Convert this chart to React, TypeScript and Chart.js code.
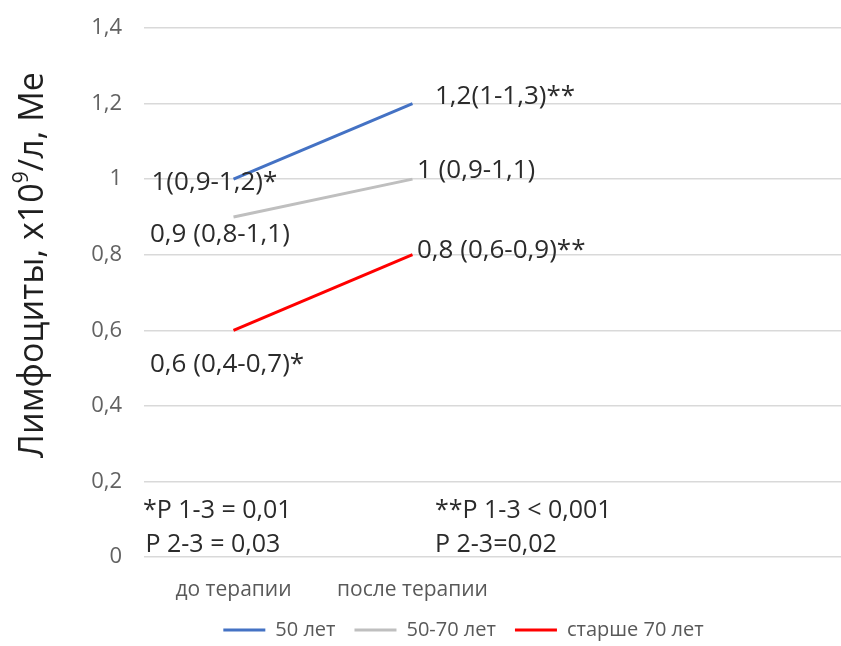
import React, { useEffect, useRef } from 'react';
import { Chart, registerables } from 'chart.js';

Chart.register(...registerables);

// ---- data ----
const categories = ['до терапии', 'после терапии', '', ''];
const seriesNames = ['50 лет', '50-70 лет', 'старше 70 лет'];
const under50 = [1.0, 1.2];
const from50to70 = [0.9, 1.0];
const over70 = [0.6, 0.8];
const under50Labels = ['1(0,9-1,2)*', '1,2(1-1,3)**'];
const from50to70Labels = ['0,9 (0,8-1,1)', '1 (0,9-1,1)'];
const over70Labels = ['0,6 (0,4-0,7)*', '0,8 (0,6-0,9)**'];
const yMin = 0;
const yMax = 1.4;
const yStep = 0.2;
const notesBefore = ['*P 1-3 = 0,01', 'P 2-3 = 0,03'];
const notesAfter = ['**P 1-3 < 0,001', 'P 2-3=0,02'];
const yTitleMain = 'Лимфоциты, x10';
const yTitleSup = '9';
const yTitleEnd = '/л, Me';

// ---- style / layout ----
const FONT = "'Open Sans', 'Noto Sans', sans-serif";
const colors = ['#4472C4', '#BFBFBF', '#FF0000'];
const labelSets = [under50Labels, from50to70Labels, over70Labels];
// offsets from point pixel: [dx to text left edge, dy to text middle]
const labelOffsets = [
  [[-82, 3], [22.5, -7]],
  [[-83.5, 18], [4.5, -8.6]],
  [[-83.5, 34], [4.5, -4]],
];
// notes: category index, dx from category pixel, dy from chart bottom
const notesLayout = [
  { cat: 0, lines: notesBefore, dx: [-90.5, -88] },
  { cat: 1, lines: notesAfter, dx: [22.5, 22.5] },
];
const notesDy = [-46, -12];

const fmt = (v: number) => String(Number(Number(v).toFixed(1))).replace('.', ',');

const annotPlugin = {
  id: 'annot',
  afterDatasetsDraw(chart: any) {
    const { ctx } = chart;
    ctx.save();
    ctx.font = `26px ${FONT}`;
    ctx.fillStyle = '#2b2b2b';
    ctx.textAlign = 'left';
    ctx.textBaseline = 'middle';
    chart.data.datasets.forEach((_ds: any, di: number) => {
      const meta = chart.getDatasetMeta(di);
      meta.data.forEach((pt: any, i: number) => {
        const [dx, dy] = labelOffsets[di][i];
        ctx.fillText(labelSets[di][i], pt.x + dx, pt.y + dy);
      });
    });
    // notes
    const xs = chart.scales.x;
    const bottom = chart.chartArea.bottom;
    ctx.font = `25px ${FONT}`;
    notesLayout.forEach((n) => {
      const px = xs.getPixelForValue(n.cat);
      n.lines.forEach((t, li) => {
        ctx.fillText(t, px + n.dx[li], bottom + notesDy[li]);
      });
    });
    ctx.restore();
  },
  afterDraw(chart: any) {
    const { ctx } = chart;
    ctx.save();
    ctx.translate(33, 265);
    ctx.rotate(-Math.PI / 2);
    ctx.fillStyle = '#1f1f1f';
    ctx.textBaseline = 'middle';
    ctx.textAlign = 'left';
    const mainFont = `34px ${FONT}`;
    const supFont = `21px ${FONT}`;
    ctx.font = mainFont;
    const w1 = ctx.measureText(yTitleMain).width;
    const w3 = ctx.measureText(yTitleEnd).width;
    ctx.font = supFont;
    const w2 = ctx.measureText(yTitleSup).width;
    let x = -(w1 + w2 + w3) / 2;
    ctx.font = mainFont;
    ctx.fillText(yTitleMain, x, 0);
    x += w1;
    ctx.font = supFont;
    ctx.fillText(yTitleSup, x, -11);
    x += w2;
    ctx.font = mainFont;
    ctx.fillText(yTitleEnd, x, 0);
    ctx.restore();
  },
};

export default function App() {
  const ref = useRef<HTMLCanvasElement>(null);
  useEffect(() => {
    if (!ref.current) return;
    Chart.defaults.font.family = FONT;
    const series = [under50, from50to70, over70];
    const chart = new Chart(ref.current, {
      type: 'line',
      data: {
        labels: categories,
        datasets: series.map((d, i) => ({
          label: seriesNames[i],
          data: d,
          borderColor: colors[i],
          backgroundColor: colors[i],
          borderWidth: 3,
          pointRadius: 0,
          pointHoverRadius: 0,
          tension: 0,
          fill: false,
          xAxisID: 'x',
          yAxisID: 'y',
        })),
      },
      options: {
        animation: false,
        responsive: true,
        maintainAspectRatio: false,
        layout: { padding: { top: 28, left: 0, right: 0, bottom: -4 } },
        plugins: {
          tooltip: { enabled: false },
          legend: {
            position: 'bottom',
            labels: {
              boxWidth: 42,
              boxHeight: 3,
              padding: 19,
              color: '#595959',
              font: { size: 20, family: FONT },
              generateLabels: (c: any) =>
                c.data.datasets.map((ds: any, i: number) => ({
                  text: ds.label,
                  fillStyle: ds.borderColor,
                  strokeStyle: ds.borderColor,
                  lineWidth: 0,
                  hidden: false,
                  datasetIndex: i,
                  fontColor: '#595959',
                })),
            },
          },
        },
        scales: {
          x: {
            type: 'category',
            offset: true,
            grid: { display: false, drawTicks: false },
            border: { display: false },
            ticks: {
              color: '#595959',
              font: { size: 21, family: FONT, lineHeight: 1.1 },
              padding: 21,
              autoSkip: false,
              maxRotation: 0,
            },
            afterFit: (s: any) => {
              s.height = 44;
              s.paddingLeft = 0;
              s.paddingRight = 0;
            },
          },
          y: {
            min: yMin,
            max: yMax,
            grid: { color: '#D9D9D9', lineWidth: 1.5, drawTicks: false },
            border: { display: false },
            ticks: {
              stepSize: yStep,
              color: '#626262',
              font: { size: 22, family: FONT },
              padding: 22,
              callback: (v: any) => fmt(v),
            },
            afterFit: (s: any) => {
              s.width = 144;
              s.paddingTop = 0;
              s.paddingBottom = 0;
            },
          },
          y2: {
            position: 'right',
            display: true,
            grid: { display: false, drawTicks: false },
            border: { display: false },
            ticks: { display: false },
            afterFit: (s: any) => {
              s.width = 67;
              s.paddingTop = 0;
              s.paddingBottom = 0;
            },
          },
        },
      } as any,
      plugins: [annotPlugin],
    });
    return () => chart.destroy();
  }, []);
  return (
    <div
      style={{
        position: 'fixed',
        left: 0,
        top: 0,
        width: 841,
        height: 646,
        overflow: 'hidden',
        background: '#ffffff',
      }}
    >
      <div style={{ position: 'relative', width: 927, height: 646 }}>
        <canvas ref={ref} />
      </div>
    </div>
  );
}
